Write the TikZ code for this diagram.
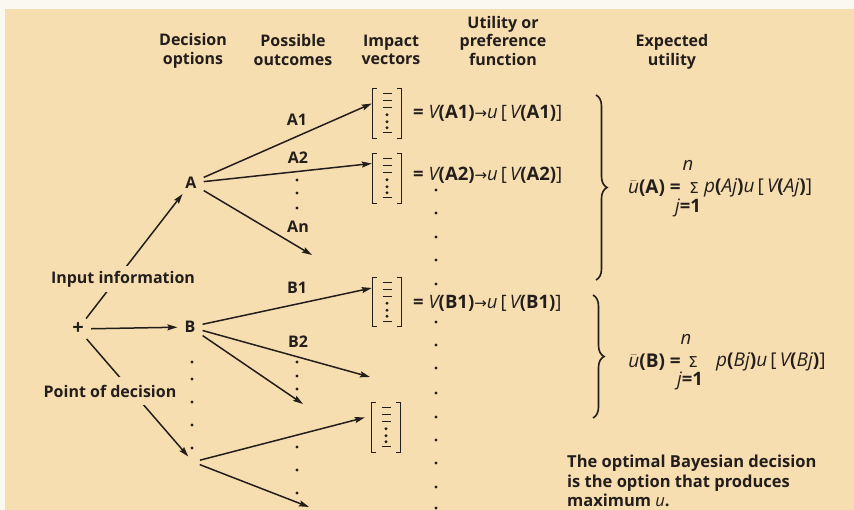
\documentclass[tikz,border=0pt]{standalone}
\usepackage{fontspec}
\setmainfont{Open Sans}
\newfontfamily\symf{DejaVu Sans}
\usetikzlibrary{decorations.pathreplacing,calc,arrows.meta}
\definecolor{bg}{RGB}{247,222,176}
\definecolor{ink}{RGB}{35,30,28}
\definecolor{paper}{RGB}{251,248,240}
\newcommand{\iv}[1]{{\mdseries\itshape #1}}
\newcommand{\arr}{{\symf\mdseries\fontsize{15}{15}\selectfont →}}
\newcommand{\ubar}{$\bar{\mbox{\iv{u}}}$}
\newcommand{\sig}{{\symf\mdseries\fontsize{15}{15}\selectfont Σ}}
\newcommand{\vecbox}[3]{%
  \node[vbox] (#1) at (#2,#3) {};
  \draw[brk] ([xshift=4pt]#1.north west) -- (#1.north west) -- (#1.south west) -- ([xshift=4pt]#1.south west);
  \draw[brk] ([xshift=-4pt]#1.north east) -- (#1.north east) -- (#1.south east) -- ([xshift=-4pt]#1.south east);
  \foreach \d in {5,12,19,44}{\draw[line width=1.2pt] ($(#1.north)+(-4.5,\d)$) -- ($(#1.north)+(4.5,\d)$);}
  \foreach \d in {26,33,39}{\fill[ink] ($(#1.north)+(0,\d)$) circle (1.6pt);}
}
\begin{document}
\begin{tikzpicture}[x=1pt,y=-1pt,
  font=\bfseries\fontsize{16}{18.5}\selectfont, text=ink, draw=ink,
  lbl/.style={inner sep=0pt, align=center},
  eqf/.style={inner sep=0pt, font=\bfseries\fontsize{18.5}{20}\selectfont},
  equ/.style={inner sep=0pt, font=\bfseries\fontsize{19}{20}\selectfont},
  opt/.style={inner xsep=7pt, inner ysep=5pt},
  vbox/.style={minimum width=28pt, minimum height=49pt, inner sep=0pt},
  brk/.style={line width=1.3pt},
  conn/.style={line width=1.5pt, -{Stealth[length=10pt,width=6pt,inset=1.5pt]}},
  gap/.style={fill=bg, inner xsep=1pt},
  dotn/.style={circle, fill=ink, inner sep=0pt, minimum size=3.4pt},
  brace/.style={decorate, decoration={brace, amplitude=11pt}, line width=1.6pt}]
\useasboundingbox (0,0) rectangle (854,510);
\fill[paper] (0,0) rectangle (854,510);
\fill[bg] (5,9) rectangle (854,510);

% headers
\node[lbl] (hdec) at (193,51) {Decision\\options};
\node[lbl] (hpos) at (293,50) {Possible\\outcomes};
\node[lbl] (himp) at (391,50) {Impact\\vectors};
\node[lbl] (hutil) at (503,41) {Utility or\\preference\\function};
\node[lbl] (hexp) at (672,52) {Expected\\utility};

% decision nodes
\node[circle, minimum size=26pt, inner sep=0pt] (P) at (78,329) {\fontsize{20}{20}\selectfont +};
\node[opt] (A) at (191,183) {A};
\node[opt] (B) at (190,327) {B};
\node[circle, minimum size=14pt, inner sep=0pt] (C) at (193,462) {};

% impact vectors
\vecbox{a1}{387}{113.5}
\vecbox{a2}{387}{178.5}
\vecbox{b1}{387}{302}
\vecbox{c1}{386}{427.5}

% free ends
\coordinate (an) at (312,255);
\coordinate (b2) at (370,377);
\coordinate (b3) at (303,404);
\coordinate (c2) at (309,507);

% connectors
\draw[conn] (P) -- (A);
\draw[conn] (P) -- (B);
\draw[conn] (P) -- (C);
\draw[conn] (A) -- ([xshift=-1pt,yshift=10pt]a1.west);
\draw[conn] (A) -- ([xshift=-1pt,yshift=15pt]a2.west);
\draw[conn] (A) -- (an);
\draw[conn] (B) -- ([xshift=-1pt,yshift=14pt]b1.west);
\draw[conn] (B) -- (b2);
\draw[conn] (B) -- (b3);
\draw[conn] (C) -- ([xshift=-7pt,yshift=10pt]c1.west);
\draw[conn] (C) -- (c2);

% gap labels
\node[gap, inner ysep=5pt] (inp) at (123,279) {Input information};
\node[gap, inner ysep=8pt] (pod) at (110,391) {Point of decision};

% outcome labels
\node[lbl] (lA1) at (297,120) {A1};
\node[lbl] (lA2) at (298,158) {A2};
\node[lbl] (lAn) at (298,227) {An};
\node[lbl] (lB1) at (297,288) {B1};
\node[lbl] (lB2) at (298,342) {B2};

% small dot columns
\foreach \y in {180,193,208,362,376,389,447,470,493} \node[dotn] at (297,\y) {};
\foreach \y in {362,379,402,425,448} \node[dotn] at (192,\y) {};
\foreach \y in {190,213,237,260,284,322,345,368,393,417,440,463,487,508} \node[dotn] at (436,\y) {};

% utility functions
\node[eqf, anchor=west] (ea1) at (413,113) {= \iv{V}(A1)\arr\iv{u}\,{\mdseries[}\,\iv{V}(A1){\mdseries]}};
\node[eqf, anchor=west] (ea2) at (413,175) {= \iv{V}(A2)\arr\iv{u}\,{\mdseries[}\,\iv{V}(A2){\mdseries]}};
\node[eqf, anchor=west] (eb1) at (413,303) {= \iv{V}(B1)\arr\iv{u}\,{\mdseries[}\,\iv{V}(B1){\mdseries]}};

% braces
\draw[brace] (596,95) -- (596,280);
\draw[brace] (593,295) -- (593,418);

% expected utility A
\node[equ] (sA) at (694,188) {\sig};
\node[equ, anchor=east] (uA) at (681,188) {\ubar(A) =};
\node[equ, anchor=west] (rA) at (704,188) {\iv{p}(\iv{Aj})\iv{u}\,{\mdseries[}\,\iv{V}(\iv{Aj}){\mdseries]}};
\node[eqf] (nA) at (688,165) {\iv{n}};
\node[eqf] (jA) at (688,208) {\iv{j}=1};

% expected utility B
\node[equ] (sB) at (693,362) {\sig};
\node[equ, anchor=east] (uB) at (681,362) {\ubar(B) =};
\node[equ, anchor=west] (rB) at (716,362) {\iv{p}(\iv{Bj})\iv{u}\,{\mdseries[}\,\iv{V}(\iv{Bj}){\mdseries]}};
\node[eqf] (nB) at (686,339) {\iv{n}};
\node[eqf] (jB) at (690,381) {\iv{j}=1};

% conclusion
\node[lbl, align=left, anchor=north west, font=\bfseries\fontsize{16.5}{19.5}\selectfont] (concl) at (567,455)
  {The optimal Bayesian decision\\is the option that produces\\maximum \iv{u}.};
\end{tikzpicture}
\end{document}
